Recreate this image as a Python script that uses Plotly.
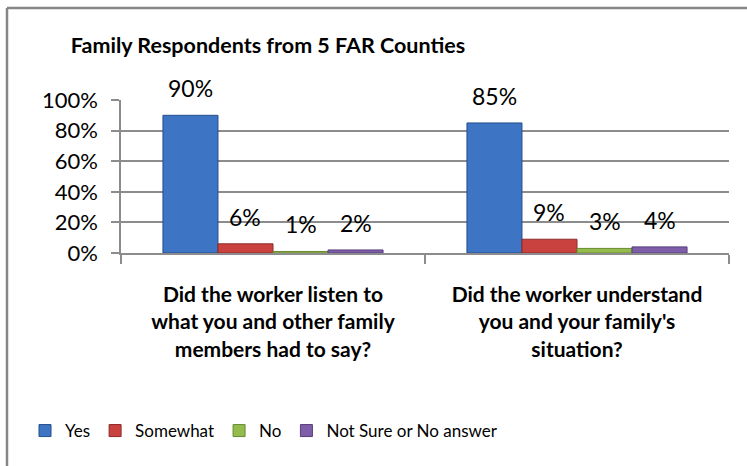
import plotly.graph_objects as go

# Survey questions (category axis) and response shares per answer
questions = [
    "Did the worker listen to<br>what you and other family<br>members had to say?",
    "Did the worker understand<br>you and your family's<br>situation?",
]
series_names = ["Yes", "Somewhat", "No", "Not Sure or No answer"]
yes_vals = [0.90, 0.85]
somewhat_vals = [0.06, 0.09]
no_vals = [0.01, 0.03]
notsure_vals = [0.02, 0.04]
y_tick_vals = [0, 0.2, 0.4, 0.6, 0.8, 1.0]
y_tick_text = ["0%", "20%", "40%", "60%", "80%", "100%"]

fills = ["#3D74C3", "#C9423F", "#93BC4C", "#7E5DA9"]
edges = ["#254F8C", "#8E2B29", "#6A8A32", "#573F7A"]

FONT = "Lato"
W, H = 747, 466
L, R, T, B = 121, 18, 100, 213
BARGAP = 0.276

all_vals = [yes_vals, somewhat_vals, no_vals, notsure_vals]

fig = go.Figure()
for name, vals, fc, ec in zip(series_names, all_vals, fills, edges):
    fig.add_trace(go.Bar(
        name=name, x=questions, y=vals,
        marker=dict(color=fc, line=dict(color=ec, width=1)),
    ))

# Percentage labels floating above each bar
n = len(series_names)
slot = (1 - BARGAP) / n
annotations = []
for j, vals in enumerate(all_vals):
    for i, v in enumerate(vals):
        xpos = i - (1 - BARGAP) / 2 + slot * (j + 0.5)
        annotations.append(dict(
            x=xpos, y=v, xref="x", yref="y",
            text=f"{round(v * 100)}%", showarrow=False,
            yanchor="middle", yshift=27,
            font=dict(family=FONT, size=23, color="#000000"),
        ))

fig.update_layout(
    width=W, height=H,
    margin=dict(l=L, r=R, t=T, b=B, pad=0),
    paper_bgcolor="white", plot_bgcolor="white",
    barmode="group", bargap=BARGAP, bargroupgap=0,
    font=dict(family=FONT, size=18, color="#000000"),
    title=dict(
        text="<b>Family Respondents from 5 FAR Counties</b>",
        x=268 / W, xanchor="center", y=1 - 45 / H, yanchor="middle",
        font=dict(family=FONT, size=21.5, color="#000000"),
    ),
    showlegend=True,
    legend=dict(
        orientation="h", x=(264 - L) / (W - L - R), xanchor="center",
        y=(H - B - 431) / (H - T - B), yanchor="middle",
        font=dict(family=FONT, size=17), traceorder="normal",
        itemwidth=30,
    ),
    annotations=annotations,
)

fig.update_xaxes(
    type="category", tickson="boundaries", ticks="outside", ticklen=9,
    tickcolor="#8C8C8C", tickwidth=1.5, showline=True, linecolor="#8C8C8C",
    linewidth=1.5, showgrid=False, ticklabelstandoff=22,
    tickfont=dict(family=FONT, size=21, color="#000000"),
    ticktext=[f"<b>{q}</b>" for q in questions], tickvals=questions,
)
fig.update_yaxes(
    range=[0, 1], tickvals=y_tick_vals, ticktext=y_tick_text,
    ticks="outside", ticklen=8, tickcolor="#8C8C8C", tickwidth=1.5,
    showline=True, linecolor="#8C8C8C", linewidth=1.5,
    showgrid=True, gridcolor="#8C8C8C", gridwidth=1.5,
    zeroline=False, ticklabelstandoff=9,
    tickfont=dict(family=FONT, size=22, color="#000000"),
)

# Chart frame along the top and left edges
pw, ph = W - L - R, H - T - B
fig.add_shape(type="line", xref="paper", yref="paper",
              x0=(7 - L) / pw, x1=(W + 5 - L) / pw,
              y0=(H - B - 8) / ph, y1=(H - B - 8) / ph,
              line=dict(color="#868686", width=2.5))
fig.add_shape(type="line", xref="paper", yref="paper",
              x0=(7 - L) / pw, x1=(7 - L) / pw,
              y0=(H - B - 8) / ph, y1=(H - B - H - 5) / ph,
              line=dict(color="#868686", width=2.5))

fig.write_html("out.html")
